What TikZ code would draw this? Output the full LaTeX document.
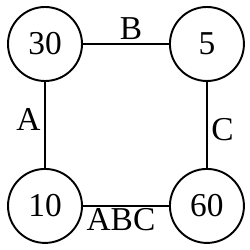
\documentclass[tikz,border=0pt]{standalone}
\usepackage{fontspec}
\setmainfont{Liberation Serif}
\usetikzlibrary{positioning}
\tikzset{
  state/.style={circle, draw=black, line width=1.1pt, minimum size=1.48cm,
                inner sep=0pt, font=\fontsize{19}{22}\selectfont},
  edge/.style={line width=1.1pt},
  lbl/.style={font=\fontsize{19}{22}\selectfont, inner sep=1pt},
}
\begin{document}
\begin{tikzpicture}[node distance=1.72cm]
    \useasboundingbox (0,0) rectangle (5,5);
    \node[state] (n30) at (0.9,4.12) {30};
    \node[state, right=of n30] (n5) {5};
    \node[state, below=of n30] (n10) {10};
    \node[state, right=of n10] (n60) {60};
    \draw[edge] (n30) -- node[lbl, above, xshift=0.1cm, yshift=1pt] {B} (n5);
    \draw[edge] (n30) -- node[lbl, left, xshift=-1pt, yshift=0.1cm] {A} (n10);
    \draw[edge] (n5) -- node[lbl, right, xshift=1pt, yshift=-0.1cm] {C} (n60);
    \draw[edge] (n10) -- node[lbl, below, xshift=-0.1cm] {ABC} (n60);
\end{tikzpicture}
\end{document}
